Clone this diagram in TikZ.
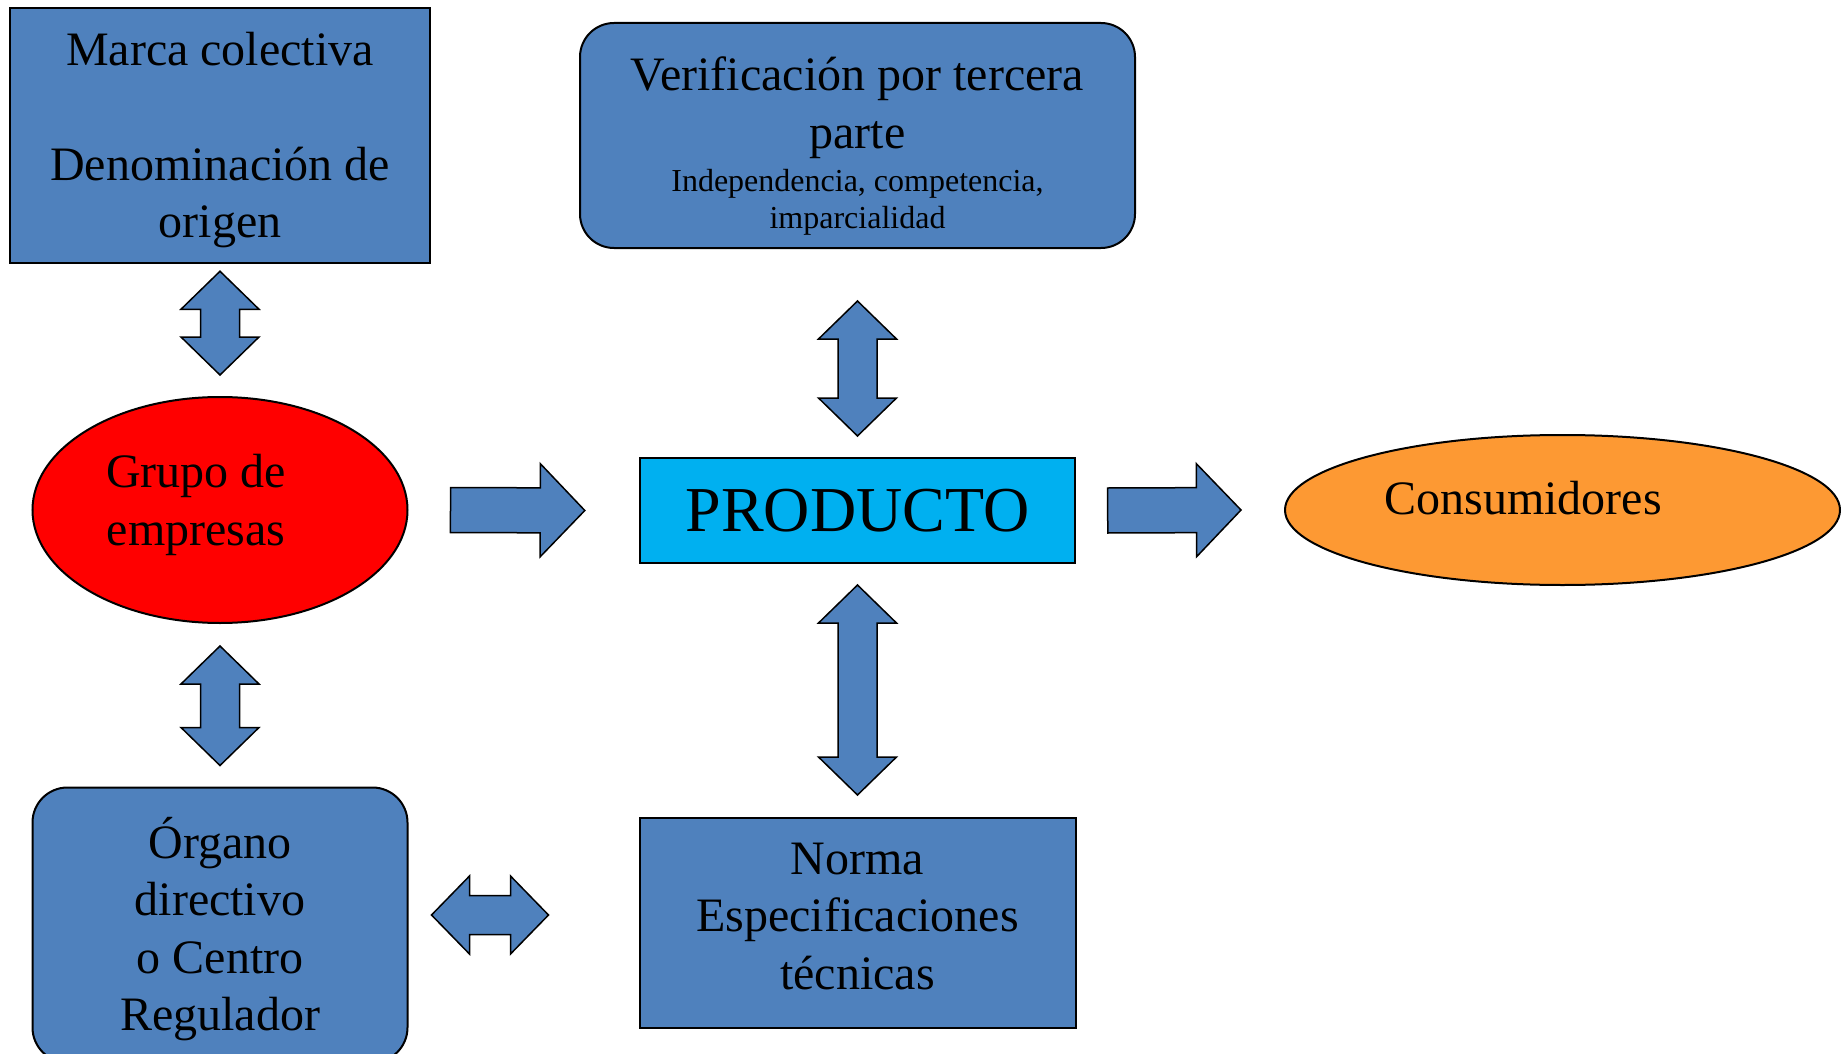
\documentclass[tikz,border=0pt]{standalone}
\usepackage{fontspec}
\setmainfont{Liberation Serif}
\usepackage{tikz}
\usetikzlibrary{shapes.geometric,calc,positioning}

\definecolor{boxblue}{RGB}{79,129,189}
\definecolor{prodcyan}{RGB}{0,176,240}
\definecolor{consorange}{RGB}{253,153,51}

% block arrows drawn between two named points
\tikzset{
  dblarrow/.style={draw=black, fill=boxblue, line width=0.75pt, line join=miter,
    to path={
      -- ($(\tikztostart)!19pt!(\tikztotarget)!19.5pt!90:(\tikztotarget)$)
      -- ($(\tikztostart)!19pt!(\tikztotarget)!9.75pt!90:(\tikztotarget)$)
      -- ($(\tikztotarget)!19pt!(\tikztostart)!9.75pt!-90:(\tikztostart)$)
      -- ($(\tikztotarget)!19pt!(\tikztostart)!19.5pt!-90:(\tikztostart)$)
      -- (\tikztotarget)
      -- ($(\tikztotarget)!19pt!(\tikztostart)!19.5pt!90:(\tikztostart)$)
      -- ($(\tikztotarget)!19pt!(\tikztostart)!9.75pt!90:(\tikztostart)$)
      -- ($(\tikztostart)!19pt!(\tikztotarget)!9.75pt!-90:(\tikztotarget)$)
      -- ($(\tikztostart)!19pt!(\tikztotarget)!19.5pt!-90:(\tikztotarget)$)
      -- cycle}},
  sglarrow/.style={draw=black, fill=boxblue, line width=0.75pt, line join=miter,
    to path={
      -- ($(\tikztostart)!11.25pt!90:(\tikztotarget)$)
      -- ($(\tikztotarget)!22.25pt!(\tikztostart)!11.25pt!-90:(\tikztostart)$)
      -- ($(\tikztotarget)!22.25pt!(\tikztostart)!23.25pt!-90:(\tikztostart)$)
      -- (\tikztotarget)
      -- ($(\tikztotarget)!22.25pt!(\tikztostart)!23.25pt!90:(\tikztostart)$)
      -- ($(\tikztotarget)!22.25pt!(\tikztostart)!11.25pt!90:(\tikztostart)$)
      -- ($(\tikztostart)!11.25pt!-90:(\tikztotarget)$)
      -- cycle}}
}

\begin{document}
\begin{tikzpicture}[x=0.5pt,y=-0.5pt]
    \tikzstyle{every node}+=[inner sep=0pt]
    \tikzstyle{bigtext}=[align=center, font={\fontsize{24pt}{28.8pt}\selectfont}]
    \tikzstyle{bluebox}=[draw=black, line width=1pt, fill=boxblue]
    \useasboundingbox (0,0) rectangle (1843,1054);
    % boxes
    \node [bluebox, minimum width=210.25pt, minimum height=127.75pt] (marca) at (220,135.5) {};
    \node [bigtext] (marcatxt) at (220,140) {Marca colectiva\\[28.8pt]Denominación de\\origen};
    \node [bluebox, rounded corners=17pt, minimum width=277.5pt, minimum height=112.5pt] (verif) at (857.5,135.5) {};
    \node [bigtext] (veriftxt) at (857.5,146)
      {Verificación por tercera\\parte\\[-7.3pt]{\fontsize{16pt}{19pt}\selectfont Independencia, competencia,}\\[-10.3pt]{\fontsize{16pt}{19pt}\selectfont imparcialidad}};
    \node [ellipse, draw=black, line width=1pt, fill=red, minimum width=187.5pt, minimum height=113pt] (grupo) at (220,510) {};
    \node [bigtext] (grupotxt) at (196,505) {Grupo de\\empresas};
    \node [draw=black, line width=1pt, fill=prodcyan, minimum width=217.7pt, minimum height=52.5pt] (producto) at (857.5,510.5)
      {\fontsize{32pt}{38pt}\selectfont PRODUCTO};
    \node [ellipse, draw=black, line width=1pt, fill=consorange, minimum width=277.5pt, minimum height=75pt] (cons) at (1562.5,510) {};
    \node [bigtext] (constxt) at (1523,498) {Consumidores};
    \node [bluebox, rounded corners=17.5pt, minimum width=187.5pt, minimum height=137.5pt] (organo) at (220,925) {};
    \node [bigtext] (organotxt) at (220,929) {Órgano\\directivo\\o Centro\\Regulador};
    \node [bluebox, minimum width=218pt, minimum height=105pt] (norma) at (857.5,923) {};
    \node [bigtext] (normatxt) at (857.5,916.5) {Norma\\Especificaciones\\técnicas};
    % arrow ends
    \coordinate (m1) at ($(marca.south)+(0,7)$);
    \coordinate (g1) at ($(grupo.north)+(0,-21)$);
    \coordinate (v1) at ($(verif.south)+(0,52)$);
    \coordinate (p1) at ($(producto.north)+(0,-21)$);
    \coordinate (g2) at ($(grupo.south)+(0,22)$);
    \coordinate (o1) at ($(organo.north)+(0,-21)$);
    \coordinate (p2) at ($(producto.south)+(0,21)$);
    \coordinate (n1) at ($(norma.north)+(0,-22)$);
    \coordinate (o2) at ($(organo.east)+(23,-10)$);
    \coordinate (n2) at ($(norma.west)+(-90,-8)$);
    \coordinate (g3) at ($(grupo.east)+(42,0)$);
    \coordinate (p3) at ($(producto.west)+(-54,0)$);
    \coordinate (p4) at ($(producto.east)+(31.5,0)$);
    \coordinate (c1) at ($(cons.west)+(-43,0)$);
    % arrows
    \draw [dblarrow] (m1) to (g1);
    \draw [dblarrow] (v1) to (p1);
    \draw [dblarrow] (g2) to (o1);
    \draw [dblarrow] (p2) to (n1);
    \draw [dblarrow] (o2) to (n2);
    \draw [sglarrow] (g3) to (p3);
    \draw [sglarrow] (p4) to (c1);
\end{tikzpicture}
\end{document}
